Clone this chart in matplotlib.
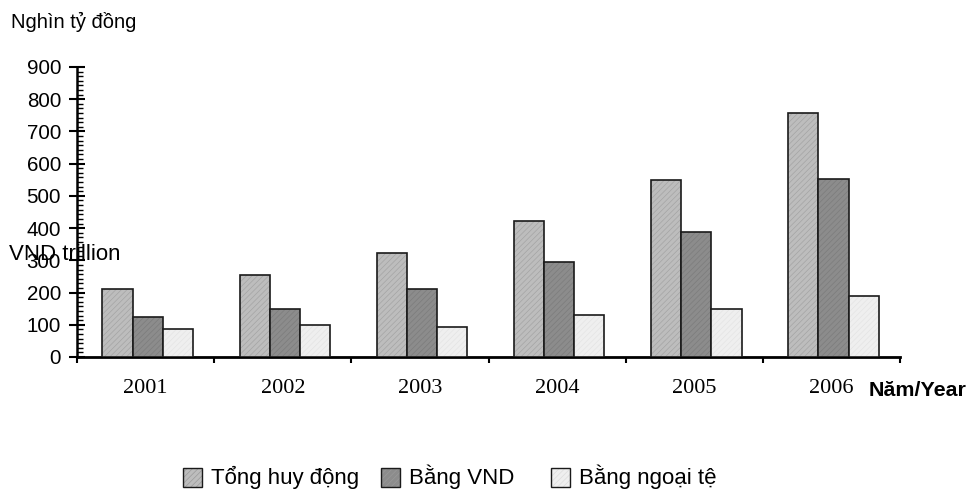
import matplotlib
matplotlib.use("Agg")
import matplotlib.pyplot as plt
import numpy as np
from matplotlib.patches import Rectangle
from matplotlib.ticker import MultipleLocator

years = ["2001", "2002", "2003", "2004", "2005", "2006"]
tong_huy_dong = [212, 253, 324, 421, 550, 756]
bang_vnd = [125, 150, 212, 294, 388, 553]
bang_ngoai_te = [87, 98, 94, 129, 150, 190]
series_names = ["Tổng huy động", "Bằng VND", "Bằng ngoại tệ"]
y_ticks = [0, 100, 200, 300, 400, 500, 600, 700, 800, 900]

W, H = 972, 493
fig = plt.figure(figsize=(W / 100, H / 100), dpi=100)
ax = fig.add_axes([77 / W, (H - 357) / H, (900 - 77) / W, (357 - 67) / H])

colors = ["#bdbdbd", "#8c8c8c", "#efefef"]
hatch_cols = ["#a4a4a4", "#7c7c7c", "#e4e4e4"]
x = np.arange(len(years))
bw = 0.22
plt.rcParams['hatch.linewidth'] = 0.5
for i, (vals, c, hc) in enumerate(zip([tong_huy_dong, bang_vnd, bang_ngoai_te], colors, hatch_cols)):
    bars = ax.bar(x + (i - 1) * bw + 0.015, vals, bw, color=c, edgecolor="#1a1a1a",
                  linewidth=1.2, zorder=3)
    for b in bars:
        b.set_hatch("//////")
        b._hatch_color = matplotlib.colors.to_rgba(hc)

ax.set_xlim(-0.5, len(years) - 0.5)
ax.set_ylim(0, 900)
ax.set_yticks(y_ticks)
ax.yaxis.set_minor_locator(MultipleLocator(100 / 7))
ax.tick_params(axis="y", which="major", direction="inout", length=11, width=1.5,
               labelsize=14.8, pad=6)
ax.tick_params(axis="y", which="minor", direction="in", length=4, width=1.0)
for lab in ax.get_yticklabels():
    lab.set_fontfamily("Liberation Sans")

ax.set_xticks(np.arange(len(years) + 1) - 0.5)
ax.set_xticklabels([])
ax.tick_params(axis="x", which="major", direction="out", length=4, width=1.5)
for k, yr in enumerate(years):
    ax.text(k, -97, yr, ha="center", va="center", fontsize=16,
            fontfamily="Liberation Serif")

for s in ["top", "right"]:
    ax.spines[s].set_visible(False)
ax.spines["left"].set_linewidth(1.8)
ax.spines["bottom"].set_linewidth(2.0)

fig.text(11 / W, 1 - 22 / H, "Nghìn tỷ đồng", fontsize=14.5, fontfamily="Liberation Sans",
         ha="left", va="center")
fig.text(9 / W, 1 - 255 / H, "VND trillion", fontsize=16, fontfamily="Liberation Sans",
         ha="left", va="center")
fig.text(869 / W, 1 - 390 / H, "Năm/Year", fontsize=15.4, fontweight="bold",
         fontfamily="Liberation Sans", ha="left", va="center")

# legend entries laid out like the reference
patch_x = [183, 381, 551]
for px, c, name in zip(patch_x, colors, series_names):
    r = Rectangle((px / W, 1 - 487 / H), 19 / W, 19 / H, transform=fig.transFigure,
                  facecolor=c, edgecolor="#1a1a1a", linewidth=1.0, hatch="//////")
    r._hatch_color = matplotlib.colors.to_rgba("#9a9a9a" if c != colors[2] else "#dcdcdc")
    fig.add_artist(r)
    fig.text((px + 28) / W, 1 - 477 / H, name, fontsize=16, fontfamily="Liberation Sans",
             ha="left", va="center")

fig.savefig("out.png", dpi=100)
